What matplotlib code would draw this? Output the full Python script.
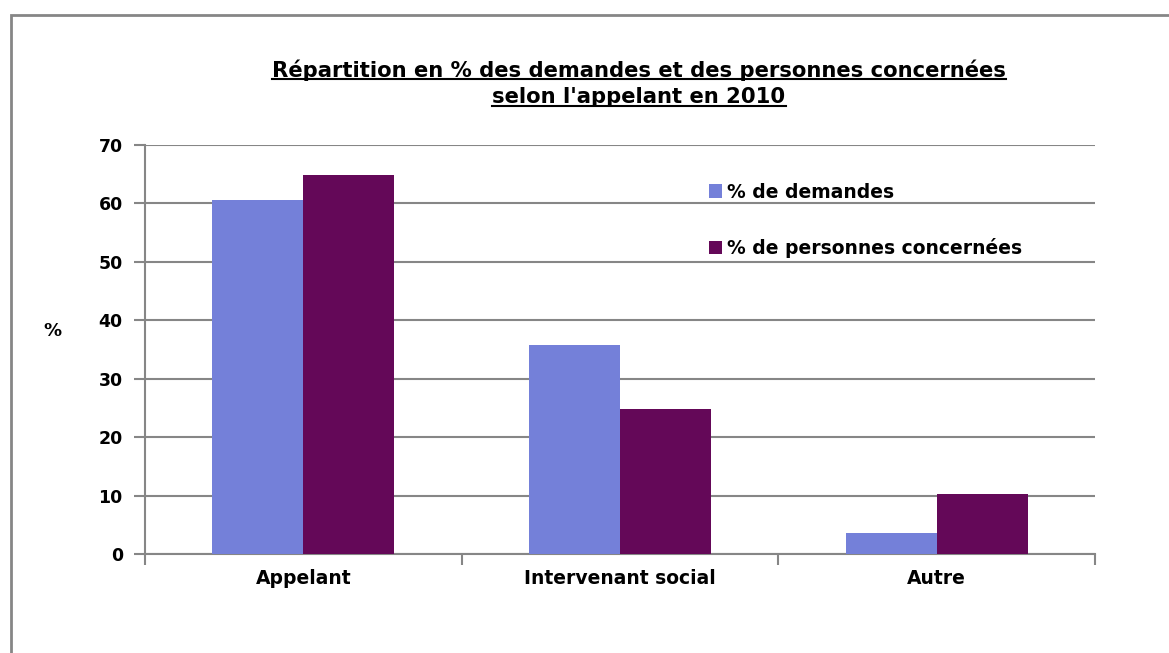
import matplotlib.pyplot as plt
import matplotlib.patches as mpatches
from matplotlib.lines import Line2D
import numpy as np

# data
categories = ["Appelant", "Intervenant social", "Autre"]
demandes = [60.6, 35.8, 3.6]
personnes = [64.9, 24.8, 10.3]
series_names = ["% de demandes", "% de personnes concernées"]
yticks = [0, 10, 20, 30, 40, 50, 60, 70]

c_dem = "#7480D9"
c_pers = "#640858"
grey = "#868686"

plt.rcParams['font.family'] = ['DejaVu Sans']

fig = plt.figure(figsize=(11.69, 6.53), dpi=100)
ax = fig.add_axes([145/1169, 1 - 554/653, 950/1169, 409/653])

# outer frame of the chart
frame = mpatches.Rectangle((10.5/1169, -0.1), 1.2, 1 - 15.5/653 + 0.1,
                           transform=fig.transFigure, fill=False,
                           edgecolor=grey, linewidth=2, clip_on=False)
fig.patches.append(frame)

x = np.arange(len(categories))
w = 0.287
ax.bar(x - w/2, demandes, w, color=c_dem, label=series_names[0], zorder=3)
ax.bar(x + w/2, personnes, w, color=c_pers, label=series_names[1], zorder=3)

ax.set_xlim(-0.5, 2.5)
ax.set_ylim(0, 70)
ax.set_yticks(yticks)
ax.yaxis.grid(True, color=grey, linewidth=1.5, zorder=0)
ax.set_axisbelow(True)

for s in ["top", "right"]:
    ax.spines[s].set_visible(False)
for s in ["left", "bottom"]:
    ax.spines[s].set_color(grey)
    ax.spines[s].set_linewidth(1.5)

ax.tick_params(axis='y', colors=grey, length=8, width=1.5, labelsize=12.5,
               labelcolor='black', pad=8)
for lab in ax.get_yticklabels():
    lab.set_fontweight('bold')

# category labels centered, tick marks at boundaries
ax.set_xticks([-0.5, 0.5, 1.5, 2.5])
ax.set_xticklabels([])
ax.tick_params(axis='x', colors=grey, length=8, width=1.5)
ax.set_xticks(x, minor=True)
ax.set_xticklabels(categories, minor=True, fontsize=13.5, fontweight='bold')
ax.tick_params(axis='x', which='minor', length=0, pad=11)

fig.text(52/1169, 1 - 331/653, "%", fontsize=13, fontweight='bold',
         ha='center', va='center')

ax.legend(loc='upper left', bbox_to_anchor=(701/1169, 1 - 175/653),
          bbox_transform=fig.transFigure, frameon=False,
          prop={'weight': 'bold', 'size': 13.5},
          handlelength=0.7, handleheight=0.7, handletextpad=0.3,
          labelspacing=1.95, borderaxespad=0)

# title, underlined
title_lines = ["Répartition en % des demandes et des personnes concernées",
               "selon l'appelant en 2010"]
title_y = [70, 97]
fig.canvas.draw()
renderer = fig.canvas.get_renderer()
for line, yy in zip(title_lines, title_y):
    t = fig.text(639/1169, 1 - yy/653, line, fontsize=15.2, fontweight='bold',
                 ha='center', va='center')
    bb = t.get_window_extent(renderer=renderer)
    bb = bb.transformed(fig.transFigure.inverted())
    uy = bb.y0 + 1.5/653
    fig.lines.append(Line2D([bb.x0, bb.x1], [uy, uy], color='black',
                            linewidth=1.5, transform=fig.transFigure))

fig.savefig("out.png", dpi=100)
